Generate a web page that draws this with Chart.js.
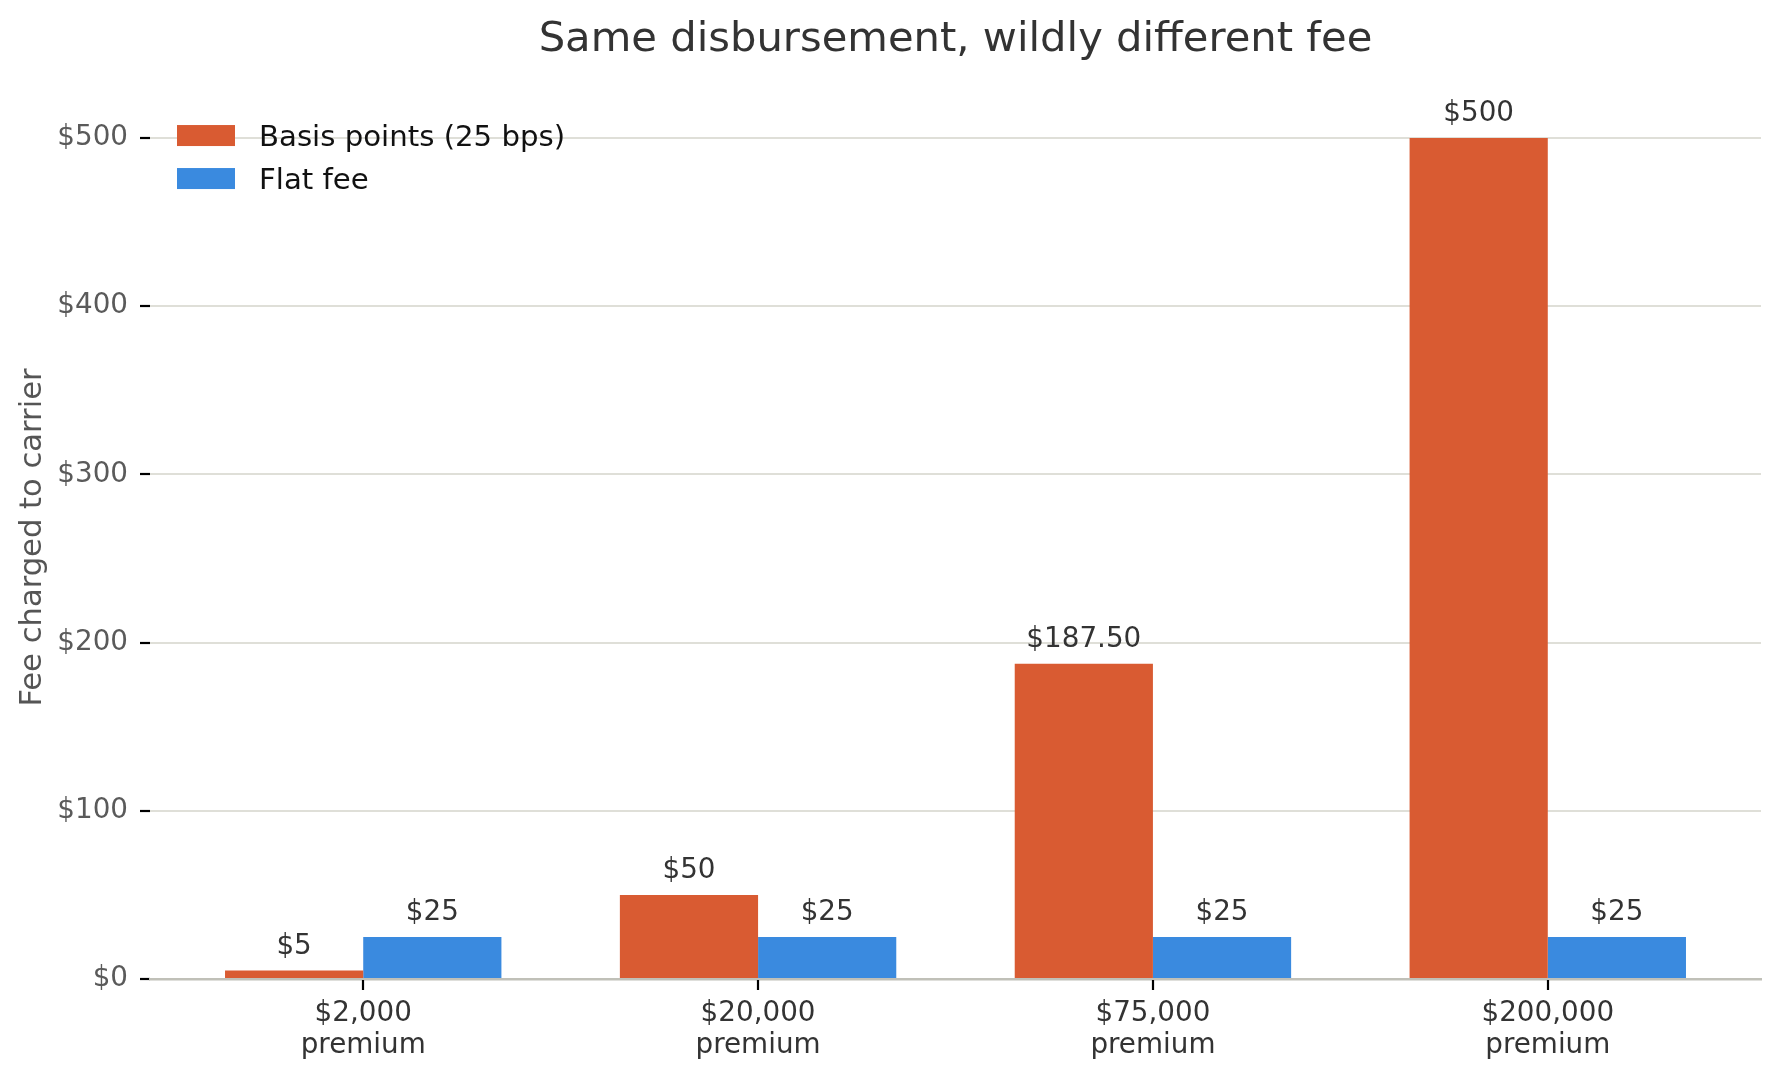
<!DOCTYPE html>
<html><head><meta charset="utf-8">
<script src="https://cdn.jsdelivr.net/npm/chart.js@4.4.1/dist/chart.umd.min.js"></script>
<style>html,body{margin:0;padding:0;background:#fff;overflow:hidden}#wrap{width:1779px;height:1080px}</style>
</head><body><div id="wrap"><canvas id="c" width="1779" height="1080"></canvas></div>
<script>
const categories = [['$2,000', 'premium'], ['$20,000', 'premium'], ['$75,000', 'premium'], ['$200,000', 'premium']];
const seriesNames = ['Basis points (25 bps)', 'Flat fee'];
const basisPoints = [5, 50, 187.5, 500];
const flatFee = [25, 25, 25, 25];
const basisLabels = ['$5', '$50', '$187.50', '$500'];
const flatLabels = ['$25', '$25', '$25', '$25'];
const yTicks = [0, 100, 200, 300, 400, 500];
const colors = ['#D95B32', '#3A8ADF'];
const FONT = "'DejaVu Sans', sans-serif";

const valueLabels = {
  id: 'valueLabels',
  afterDatasetsDraw(chart) {
    const ctx = chart.ctx;
    const sets = [basisLabels, flatLabels];
    ctx.save();
    ctx.font = '27.8px ' + FONT;
    ctx.fillStyle = '#333333';
    ctx.textAlign = 'center';
    ctx.textBaseline = 'alphabetic';
    chart.data.datasets.forEach((ds, di) => {
      const meta = chart.getDatasetMeta(di);
      meta.data.forEach((el, i) => {
        ctx.fillText(sets[di][i], el.x, el.y - 17);
      });
    });
    ctx.restore();
  }
};

const xTickMarks = {
  id: 'xTickMarks',
  afterDraw(chart) {
    const ctx = chart.ctx;
    const sx = chart.scales.x;
    const bottom = chart.chartArea.bottom;
    ctx.save();
    ctx.strokeStyle = '#000000';
    ctx.lineWidth = 2.2;
    categories.forEach((_, i) => {
      const px = Math.round(sx.getPixelForValue(i));
      ctx.beginPath();
      ctx.moveTo(px, bottom + 1);
      ctx.lineTo(px, bottom + 11);
      ctx.stroke();
    });
    ctx.restore();
  }
};

const customLegend = {
  id: 'customLegend',
  afterDraw(chart) {
    const ctx = chart.ctx;
    const a = chart.chartArea;
    ctx.save();
    ctx.font = '29.2px ' + FONT;
    ctx.textAlign = 'left';
    ctx.textBaseline = 'alphabetic';
    chart.data.datasets.forEach((ds, i) => {
      const bx = a.left + 27, by = a.top + 29 + i * 43;
      ctx.fillStyle = ds.backgroundColor;
      ctx.fillRect(bx, by, 58, 21);
      ctx.fillStyle = '#111111';
      ctx.fillText(ds.label, bx + 82, by + 21);
    });
    ctx.restore();
  }
};

new Chart(document.getElementById('c'), {
  type: 'bar',
  data: {
    datasets: [
      { label: seriesNames[0], data: basisPoints.map((y, i) => ({ x: i, y })), backgroundColor: colors[0], borderWidth: 0 },
      { label: seriesNames[1], data: flatFee.map((y, i) => ({ x: i, y })), backgroundColor: colors[1], borderWidth: 0 }
    ]
  },
  options: {
    responsive: false,
    devicePixelRatio: 1,
    animation: false,
    categoryPercentage: 0.7,
    barPercentage: 1.0,
    layout: { padding: { left: 0, right: 18, top: 0, bottom: 0 } },
    plugins: {
      legend: { display: false },
      tooltip: { enabled: false },
      title: {
        display: true,
        text: 'Same disbursement, wildly different fee',
        fullSize: false,
        color: '#333333',
        font: { family: FONT, size: 41.7, weight: 'normal', lineHeight: 1.2 },
        padding: { top: 15.5, bottom: 30.5 }
      }
    },
    scales: {
      x: {
        type: 'linear',
        min: -0.54,
        max: 3.54,
        offset: false,
        afterBuildTicks: s => { s.ticks = categories.map((_, i) => ({ value: i })); },
        afterFit: s => { s.height = 101; },
        ticks: {
          callback: v => categories[v],
          color: '#333333',
          font: { family: FONT, size: 27.8, lineHeight: 1.15 },
          padding: 9,
          maxRotation: 0,
          autoSkip: false
        },
        grid: { display: true, offset: false, drawOnChartArea: false, drawTicks: true, tickLength: 10, color: 'rgba(0,0,0,0)', tickColor: 'rgba(0,0,0,0)' },
        border: { display: true, color: '#c0c0b8', width: 2.5 }
      },
      y: {
        min: 0,
        max: 525,
        afterBuildTicks: s => { s.ticks = yTicks.map(v => ({ value: v })); },
        afterFit: s => { s.width = 150; },
        ticks: {
          callback: v => '$' + v,
          color: '#5a5a5a',
          font: { family: FONT, size: 27.8 },
          padding: 12
        },
        grid: {
          color: c => (c.tick && c.tick.value === 0) ? 'rgba(0,0,0,0)' : '#dfdfd8',
          lineWidth: 2,
          drawTicks: true,
          tickLength: 10,
          tickColor: '#000000',
          tickWidth: 2.2
        },
        border: { display: false },
        title: {
          display: true,
          text: 'Fee charged to carrier',
          color: '#555555',
          font: { family: FONT, size: 30.6, lineHeight: 1.2 },
          padding: { top: 14.6, bottom: 0 }
        }
      }
    }
  },
  plugins: [valueLabels, xTickMarks, customLegend]
});
</script></body></html>
